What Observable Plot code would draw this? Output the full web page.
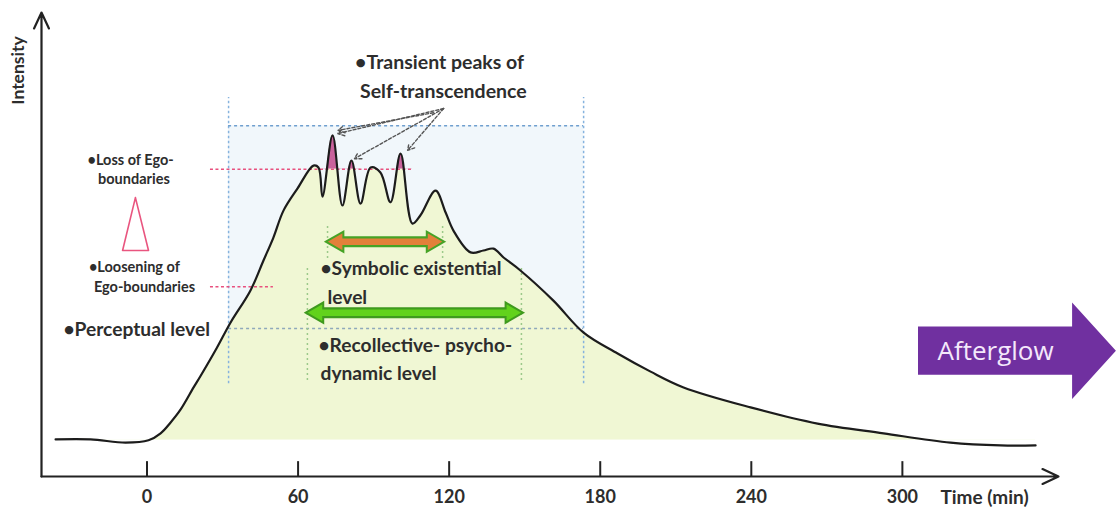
<!DOCTYPE html>
<html><head><meta charset="utf-8">
<script src="https://cdn.jsdelivr.net/npm/d3@7"></script>
<script src="https://cdn.jsdelivr.net/npm/@observablehq/plot@0.6"></script>
<style>html,body{margin:0;padding:0;background:#fff;} #chart{width:1116px;height:512px;overflow:hidden;}</style>
</head><body><div id="chart"></div>
<script>
// ---- data (time in minutes, intensity in arbitrary units 0-100) ----
const time = [-36.3,-22.4,-8.5,0.6,5.4,9.3,13.3,18.5,21.2,27.2,33.2,41.1,46.3,50.2,54.2,59.8,66.1,68.1,69.7,73.7,77.6,81.2,84.8,88.8,92.7,96.7,100.7,105.4,108.6,114.6,118.6,121.7,128.5,133.6,137.6,141.6,148.3,161.4,173.4,186.9,200.0,213.1,239.7,266.3,292.5,319.1,339.0,352.9];
const intensity = [8.0,8.0,7.3,7.8,9.3,11.6,14.4,19.2,21.6,27.2,33.2,40.1,46.6,51.5,57.3,62.1,67.0,66.6,60.3,73.5,58.4,68.1,58.8,66.6,65.5,59.1,69.6,54.5,56.3,61.6,56.9,53.0,48.3,48.7,49.1,47.2,44.4,37.9,31.0,26.5,22.6,19.2,14.9,11.4,9.3,7.3,6.7,6.7];
const xTicks = [0, 60, 120, 180, 240, 300];
const restLevel = 7.8;
const egoLossLevel = 66.2;
const egoLooseningLevel = 40.9;
const transientPeakWindows = [[69.7, 77.6], [77.6, 84.8], [96.7, 105.4]];
const peakBox = {t0: 32.4, t1: 173.4, vTop: 75.6, vBottom: 31.9, vLow: 20.0, vHigh: 81.7};
const symbolicSpan = {t0: 71.7, t1: 117.4, v: 50.6, g0: 47.0, g1: 54.1};
const recollectiveSpan = {t0: 63.7, t1: 148.7, v: 35.3, g0: 20.7, g1: 45.0};
const pointerFrom = [{t: 117.8, v: 79.3}, {t: 113.8, v: 78.4}, {t: 117.8, v: 79.3}, {t: 117.8, v: 79.3}];
const pointerTo = [{t: 75.7, v: 73.9}, {t: 75.9, v: 74.6}, {t: 82.4, v: 68.5}, {t: 103.5, v: 70.3}];
const egoTriangle = [{t: -4.6, v: 60.1}, {t: 0.6, v: 48.7}, {t: -9.7, v: 48.7}, {t: -4.6, v: 60.1}];
const afterglow = {t0: 306.4, tHead: 367.6, tTip: 385.0, v: 27.0, body: 5.2, head: 10.4};

const mainLabels = [
  {text: "•Transient peaks of", t: 116.2, v: 89.2},
  {text: "Self-transcendence", t: 117.7, v: 83.0}
];
const smallLabels = [
  {text: "•Loss of Ego-", t: -6.5, v: 68.1},
  {text: "boundaries", t: -5.2, v: 64.0},
  {text: "•Loosening of", t: -5.0, v: 45.0},
  {text: "Ego-boundaries", t: -1.0, v: 40.7}
];
const levelLabels = [
  {text: "•Perceptual level", t: -33.2, v: 31.5},
  {text: "•Symbolic existential", t: 68.9, v: 44.8},
  {text: "level", t: 71.7, v: 38.6},
  {text: "•Recollective- psycho-", t: 68.1, v: 28.2},
  {text: "dynamic level", t: 68.9, v: 22.2}
];

const curve = time.map((t, i) => ({t, v: intensity[i]}));
const W = 1116, H = 512;
const tMin = -41.9, tMax = 362;
const FONT = "Lato, 'Open Sans', sans-serif";
const TXT = "#2d2d2d";
const FILL_REST = "#f0f7d4", FILL_PEAK = "#c9629c";

const afterglowShape = [
  {t: afterglow.t0, lo: afterglow.v - afterglow.body, hi: afterglow.v + afterglow.body},
  {t: afterglow.tHead, lo: afterglow.v - afterglow.body, hi: afterglow.v + afterglow.body},
  {t: afterglow.tHead, lo: afterglow.v - afterglow.head, hi: afterglow.v + afterglow.head},
  {t: afterglow.tTip, lo: afterglow.v, hi: afterglow.v}
];
const pointers = pointerFrom.map((f, i) => ({x1: f.t, y1: f.v, x2: pointerTo[i].t, y2: pointerTo[i].v}));

function levelArrow(span, fillColor, outline) {
  return [
    Plot.ruleY([span.v], {x1: span.t0, x2: span.t1, stroke: outline, strokeWidth: 11, insetLeft: 9, insetRight: 9}),
    Plot.dot([{t: span.t1}], {x: "t", y: span.v, symbol: "triangle", rotate: 90, r: 7.5, dx: -10, fill: fillColor, stroke: outline, strokeWidth: 2}),
    Plot.dot([{t: span.t0}], {x: "t", y: span.v, symbol: "triangle", rotate: -90, r: 7.5, dx: 10, fill: fillColor, stroke: outline, strokeWidth: 2}),
    Plot.ruleY([span.v], {x1: span.t0, x2: span.t1, stroke: fillColor, strokeWidth: 6.5, insetLeft: 10, insetRight: 10})
  ];
}

const plot = Plot.plot({
  width: W, height: H,
  marginLeft: 41, marginRight: W - 1058, marginTop: 12, marginBottom: 36,
  x: {domain: [tMin, tMax], axis: null},
  y: {domain: [0, 100], axis: null},
  style: {fontFamily: FONT, background: "#fff", overflow: "visible"},
  marks: [
    Plot.rect([peakBox], {x1: "t0", x2: "t1", y1: "vBottom", y2: "vTop", fill: "#f1f7fb"}),
    Plot.areaY(curve, {x: "t", y1: restLevel, y2: "v", curve: "catmull-rom", fill: FILL_REST}),
    Plot.ruleX([peakBox.t0, peakBox.t1], {y1: peakBox.vLow, y2: peakBox.vHigh, stroke: "#86b3de", strokeWidth: 1.5, strokeDasharray: "2.5,2.5"}),
    Plot.ruleY([peakBox.vTop], {x1: peakBox.t0, x2: peakBox.t1, stroke: "#6f9fcf", strokeWidth: 1.5, strokeDasharray: "3,3"}),
    Plot.ruleY([peakBox.vBottom], {x1: peakBox.t0, x2: peakBox.t1, stroke: "#8fa9bb", strokeWidth: 1.5, strokeDasharray: "3,3"}),
    Plot.ruleY([egoLossLevel], {x1: 25.2, x2: 105.8, stroke: "#e8507e", strokeWidth: 1.5, strokeDasharray: "3,2.5"}),
    Plot.ruleY([egoLooseningLevel], {x1: 25.2, x2: 50.2, stroke: "#e8507e", strokeWidth: 1.5, strokeDasharray: "3,2.5"}),
    Plot.ruleX([symbolicSpan.t0, symbolicSpan.t1], {y1: symbolicSpan.g0, y2: symbolicSpan.g1, stroke: "#9cc98a", strokeWidth: 1.5, strokeDasharray: "2,3"}),
    Plot.ruleX([recollectiveSpan.t0, recollectiveSpan.t1], {y1: recollectiveSpan.g0, y2: recollectiveSpan.g1, stroke: "#9cc98a", strokeWidth: 1.5, strokeDasharray: "2,3"}),
    Plot.areaY(curve, {x: "t", y1: egoLossLevel, y2: "v", curve: "catmull-rom", fill: FILL_PEAK}),
    Plot.line(curve, {x: "t", y: "v", curve: "catmull-rom", stroke: "#1c1c1c", strokeWidth: 2.2}),
    Plot.arrow(pointers, {x1: "x1", y1: "y1", x2: "x2", y2: "y2", stroke: "#555", strokeWidth: 1.4, strokeDasharray: "3,2", headLength: 8}),
    Plot.line(egoTriangle, {x: "t", y: "v", stroke: "#e9557f", strokeWidth: 1.6}),
    ...levelArrow(symbolicSpan, "#e3803a", "#46a326"),
    ...levelArrow(recollectiveSpan, "#62d21c", "#3f9a1e"),
    Plot.arrow([{x1: tMin, y1: 0, x2: tMax, y2: 0}], {x1: "x1", y1: "y1", x2: "x2", y2: "y2", stroke: "#222", strokeWidth: 2.2, headLength: 12, headAngle: 50}),
    Plot.arrow([{x1: tMin, y1: 0, x2: tMin, y2: 100}], {x1: "x1", y1: "y1", x2: "x2", y2: "y2", stroke: "#222", strokeWidth: 2.2, headLength: 12, headAngle: 50}),
    Plot.ruleX(xTicks, {y1: 0, y2: 3.2, stroke: "#222", strokeWidth: 2}),
    Plot.text(xTicks, {x: d => d, y: 0, dy: 21, text: d => String(d), fontSize: 18, fontWeight: 700, fill: TXT, fontFamily: FONT}),
    Plot.text(["Time (min)"], {x: 315.1, y: 0, dy: 21, text: d => d, textAnchor: "start", fontSize: 19, fontWeight: 700, fill: TXT, fontFamily: FONT}),
    Plot.text(["Intensity"], {x: -51, y: 87.5, text: d => d, rotate: -90, fontSize: 17.5, fontWeight: 700, fill: TXT, fontFamily: FONT}),
    Plot.text(mainLabels, {x: "t", y: "v", text: "text", fontSize: 19.5, fontWeight: 700, fill: TXT, fontFamily: FONT}),
    Plot.text(smallLabels, {x: "t", y: "v", text: "text", fontSize: 14.5, fontWeight: 700, fill: TXT, fontFamily: FONT}),
    Plot.text(levelLabels, {x: "t", y: "v", text: "text", textAnchor: "start", fontSize: 19.2, fontWeight: 700, fill: TXT, fontFamily: FONT}),
    Plot.areaY(afterglowShape, {x: "t", y1: "lo", y2: "hi", fill: "#7030a0"}),
    Plot.text(["Afterglow"], {x: 337, y: afterglow.v, text: d => d, fontSize: 26, fill: "#f4e8fb", fontFamily: "'Open Sans', Lato, sans-serif"})
  ]
});

// clip the two fills using the plot's own scales
const xs = plot.scale("x"), ys = plot.scale("y");
const svg = d3.select(plot);
const defs = svg.insert("defs", ":first-child");
defs.append("clipPath").attr("id", "clipRest").attr("clipPathUnits", "userSpaceOnUse").append("rect")
  .attr("x", 0).attr("y", 0).attr("width", W).attr("height", ys.apply(restLevel));
const cpk = defs.append("clipPath").attr("id", "clipPeaks").attr("clipPathUnits", "userSpaceOnUse");
for (const [a, b] of transientPeakWindows) {
  cpk.append("rect").attr("x", xs.apply(a)).attr("y", 0)
    .attr("width", xs.apply(b) - xs.apply(a)).attr("height", ys.apply(egoLossLevel));
}
svg.selectAll("g").each(function() {
  const f = (this.getAttribute("fill") || "").toLowerCase();
  if (f === FILL_REST) this.setAttribute("clip-path", "url(#clipRest)");
  if (f === FILL_PEAK) this.setAttribute("clip-path", "url(#clipPeaks)");
});

document.getElementById("chart").append(plot);
</script>
</body></html>
